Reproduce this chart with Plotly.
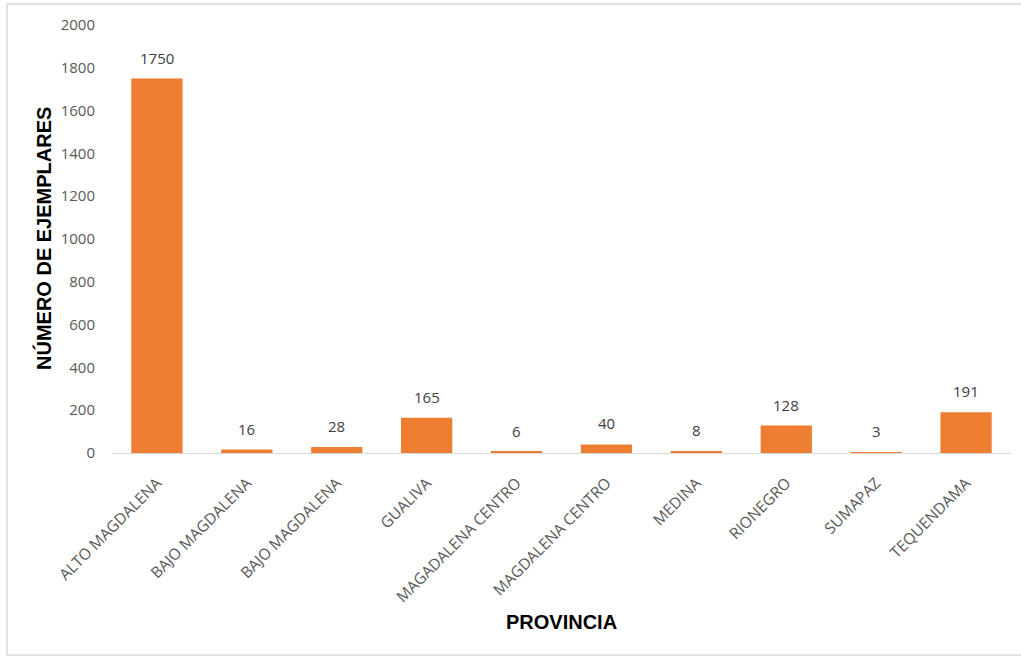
import plotly.graph_objects as go

provincias = ["ALTO MAGDALENA", "BAJO MAGDALENA", "BAJO MAGDALENA", "GUALIVA",
              "MAGADALENA CENTRO", "MAGDALENA CENTRO", "MEDINA", "RIONEGRO",
              "SUMAPAZ", "TEQUENDAMA"]
ejemplares = [1750, 16, 28, 165, 6, 40, 8, 128, 3, 191]
y_ticks = [0, 200, 400, 600, 800, 1000, 1200, 1400, 1600, 1800, 2000]

W, H = 1021, 657
L, R, T, B = 112, 10, 25, 204
pw, ph = W - L - R, H - T - B

def px_to_paper(x, y):
    return (x - L) / pw, (H - B - y) / ph

pos = list(range(len(provincias)))

fig = go.Figure(go.Bar(
    x=pos, y=ejemplares,
    marker=dict(color="#ED7D31", line=dict(width=0)),
    width=0.57,
))

# value labels above each bar
value_labels = [
    dict(x=p, y=v, xref="x", yref="y", text=str(v), showarrow=False,
         xanchor="center", yanchor="bottom", yshift=9,
         font=dict(family="Open Sans", size=15, color="#404040"))
    for p, v in zip(pos, ejemplares)
]

x0, y0 = px_to_paper(7, 655)
x1, y1 = px_to_paper(1030, 4)

fig.update_layout(
    width=W, height=H,
    margin=dict(l=L, r=R, t=T, b=B, autoexpand=False),
    paper_bgcolor="white", plot_bgcolor="white",
    showlegend=False,
    font=dict(family="Open Sans", color="#595959"),
    xaxis=dict(
        tickmode="array", tickvals=pos, ticktext=provincias,
        tickangle=-45, tickfont=dict(size=15.5, color="#595959"),
        range=[-0.5, len(provincias) - 0.5],
        showgrid=False, zeroline=False,
        showline=True, linecolor="#D9D9D9", linewidth=1,
        ticks="outside", ticklen=14, tickcolor="rgba(0,0,0,0)",
    ),
    yaxis=dict(
        range=[0, 2000], tickmode="array", tickvals=y_ticks,
        tickfont=dict(size=15, color="#595959"),
        showgrid=False, zeroline=False, showline=False,
        ticks="outside", ticklen=13, tickcolor="rgba(0,0,0,0)",
    ),
    shapes=[dict(type="rect", xref="paper", yref="paper",
                 x0=x0, y0=y0, x1=x1, y1=y1,
                 line=dict(color="#D9D9D9", width=1.5), layer="below")],
    annotations=value_labels + [
        dict(text="<b>NÚMERO DE EJEMPLARES</b>", textangle=-90,
             xref="paper", yref="paper",
             x=px_to_paper(43, 0)[0], y=px_to_paper(0, 239)[1],
             showarrow=False, xanchor="center", yanchor="middle",
             font=dict(family="Liberation Sans", size=20, color="#000000")),
        dict(text="<b>PROVINCIA</b>",
             xref="paper", yref="paper",
             x=px_to_paper(561, 0)[0], y=px_to_paper(0, 622)[1],
             showarrow=False, xanchor="center", yanchor="middle",
             font=dict(family="Liberation Sans", size=20, color="#000000")),
    ],
)

fig.write_html("out.html")
